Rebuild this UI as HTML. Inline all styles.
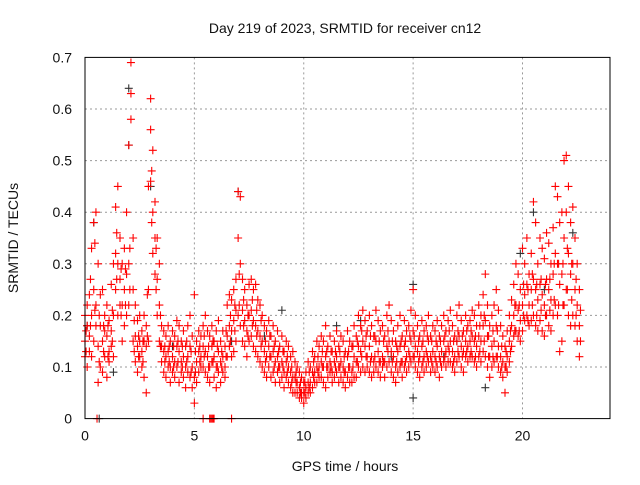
<!DOCTYPE html>
<html><head><meta charset="utf-8"><style>
body{margin:0;background:#fff;}
svg text{font-family:"Liberation Sans",sans-serif;fill:#111;}
</style></head><body>
<svg id="chart" width="640" height="480" xmlns="http://www.w3.org/2000/svg">
<rect width="640" height="480" fill="#fff"/>
<text x="345" y="33" font-size="14" text-anchor="middle">Day 219 of 2023, SRMTID for receiver cn12</text>
<text x="345" y="471" font-size="14" text-anchor="middle">GPS time / hours</text>
<text x="0" y="0" font-size="14" text-anchor="middle" transform="translate(18,238) rotate(-90)">SRMTID / TECUs</text>
<g id="grid"></g>
<g id="black"></g>
<g id="red"></g>
<rect x="85" y="57.4" width="525" height="361.2" fill="none" stroke="#000" stroke-width="1"/>
<g id="ticks"></g>
</svg>
<script>
const xTicks=[0,5,10,15,20];
const yTicks=[0,0.1,0.2,0.3,0.4,0.5,0.6,0.7];
const yTickLabels=["0","0.1","0.2","0.3","0.4","0.5","0.6","0.7"];
const redRows=[
[0.0,.15,.20,.12],[0.1,.18,.22,.10],[0.2,.24,.16,.13],[0.3,.33,.20,.12],[0.4,.38,.25,.15],[0.5,.40,.22,.18],[0.6,.30,.14,.07],[0.7,.24,.18,.10],[0.8,.25,.15,.09],[0.9,.20,.12,.17],
[1.0,.22,.16,.08],[1.1,.19,.13,.11],[1.2,.26,.17,.14],[1.3,.30,.20,.12],[1.4,.41,.32,.25],[1.5,.45,.30,.20],[1.6,.35,.27,.22],[1.7,.30,.22,.15],[1.8,.33,.25,.18],[1.9,.40,.28,.20],
[2.0,.53,.30,.22],[2.1,.69,.63,.58],[2.2,.35,.25,.15],[2.3,.22,.16,.11],[2.4,.19,.14,.09],[2.5,.20,.15,.12],[2.6,.17,.13,.10],[2.7,.20,.15,.08],[2.8,.18,.14,.05],[2.9,.45,.25,.15],
[3.0,.62,.56,.46],[3.1,.52,.40,.32],[3.2,.42,.35,.28],[3.3,.35,.27,.20],[3.4,.30,.22,.15],[3.5,.18,.14,.11],[3.6,.17,.13,.09],[3.7,.16,.12,.08],[3.8,.18,.13,.10],[3.9,.15,.10,.07],
[4.0,.17,.12,.09],[4.1,.16,.11,.08],[4.2,.19,.14,.10],[4.3,.18,.13,.07],[4.4,.15,.11,.09],[4.5,.17,.12,.08],[4.6,.14,.10,.06],[4.7,.18,.12,.09],[4.8,.20,.14,.08],[4.9,.16,.10,.06],
[5.0,.24,.08,.03],[5.1,.15,.11,.07],[5.2,.17,.13,.09],[5.3,.16,.12,.10],[5.4,.18,.14,.10],[5.5,.20,.13,.09],[5.6,.17,.12,.08],[5.7,.16,.10,.07],[5.8,.18,.14,.11],[5.9,.15,.12,.08],
[6.0,.17,.10,.06],[6.1,.19,.13,.09],[6.2,.15,.11,.07],[6.3,.17,.12,.09],[6.4,.14,.10,.08],[6.5,.22,.16,.12],[6.6,.24,.18,.14],[6.7,.23,.17,.12],[6.8,.25,.19,.13],[6.9,.27,.21,.15],
[7.0,.44,.35,.20],[7.1,.43,.30,.18],[7.2,.27,.21,.15],[7.3,.25,.19,.14],[7.4,.22,.17,.12],[7.5,.26,.20,.15],[7.6,.27,.21,.16],[7.7,.25,.19,.14],[7.8,.26,.18,.13],[7.9,.23,.17,.12],
[8.0,.22,.16,.11],[8.1,.20,.15,.10],[8.2,.18,.13,.09],[8.3,.17,.12,.08],[8.4,.19,.14,.10],[8.5,.16,.12,.08],[8.6,.18,.13,.09],[8.7,.15,.11,.07],[8.8,.17,.12,.09],[8.9,.14,.10,.07],
[9.0,.16,.11,.08],[9.1,.13,.09,.06],[9.2,.15,.11,.08],[9.3,.14,.10,.07],[9.4,.12,.09,.06],[9.5,.13,.08,.05],[9.6,.11,.08,.05],[9.7,.10,.07,.05],[9.8,.09,.06,.04],[9.9,.08,.05,.04],
[10.0,.07,.05,.03],[10.1,.09,.06,.04],[10.2,.11,.07,.05],[10.3,.10,.07,.05],[10.4,.13,.09,.06],[10.5,.12,.09,.07],[10.6,.15,.10,.07],[10.7,.14,.10,.08],[10.8,.16,.11,.08],[10.9,.15,.10,.07],
[11.0,.18,.12,.06],[11.1,.14,.10,.08],[11.2,.16,.11,.09],[11.3,.13,.09,.07],[11.4,.15,.11,.08],[11.5,.17,.12,.09],[11.6,.14,.10,.07],[11.7,.16,.11,.08],[11.8,.15,.10,.07],[11.9,.13,.09,.06],
[12.0,.17,.12,.08],[12.1,.15,.10,.07],[12.2,.14,.09,.07],[12.3,.18,.12,.08],[12.4,.16,.11,.08],[12.5,.20,.14,.10],[12.6,.18,.13,.09],[12.7,.21,.15,.10],[12.8,.19,.14,.09],[12.9,.17,.12,.10],
[13.0,.20,.14,.09],[13.1,.18,.12,.08],[13.2,.16,.11,.09],[13.3,.21,.15,.10],[13.4,.19,.13,.09],[13.5,.17,.11,.08],[13.6,.18,.12,.10],[13.7,.16,.11,.08],[13.8,.20,.14,.10],[13.9,.22,.15,.11],
[14.0,.19,.13,.09],[14.1,.17,.12,.08],[14.2,.15,.10,.07],[14.3,.18,.13,.09],[14.4,.20,.14,.10],[14.5,.16,.11,.08],[14.6,.19,.14,.10],[14.7,.17,.12,.09],[14.8,.18,.13,.10],[14.9,.21,.15,.11],
[15.0,.25,.17,.12],[15.1,.20,.14,.10],[15.2,.18,.13,.09],[15.3,.16,.12,.08],[15.4,.19,.14,.10],[15.5,.17,.12,.09],[15.6,.18,.13,.10],[15.7,.20,.15,.11],[15.8,.16,.12,.09],[15.9,.18,.13,.10],
[16.0,.17,.12,.09],[16.1,.19,.14,.10],[16.2,.16,.12,.08],[16.3,.18,.13,.10],[16.4,.20,.15,.11],[16.5,.17,.13,.10],[16.6,.19,.14,.11],[16.7,.21,.15,.11],[16.8,.18,.13,.10],[16.9,.16,.12,.09],
[17.0,.20,.15,.11],[17.1,.22,.16,.12],[17.2,.19,.14,.10],[17.3,.17,.13,.09],[17.4,.20,.15,.12],[17.5,.18,.14,.11],[17.6,.19,.15,.12],[17.7,.21,.16,.12],[17.8,.20,.15,.11],[17.9,.18,.14,.10],
[18.0,.22,.16,.12],[18.1,.20,.15,.11],[18.2,.24,.18,.13],[18.3,.28,.19,.12],[18.4,.22,.16,.10],[18.5,.18,.12,.08],[18.6,.20,.14,.10],[18.7,.22,.15,.11],[18.8,.25,.18,.12],[18.9,.21,.14,.10],
[19.0,.18,.12,.09],[19.1,.16,.11,.08],[19.2,.14,.10,.05],[19.3,.17,.12,.09],[19.4,.20,.15,.11],[19.5,.23,.18,.14],[19.6,.26,.20,.16],[19.7,.30,.22,.17],[19.8,.28,.21,.16],[19.9,.25,.19,.15],
[20.0,.33,.22,.17],[20.1,.30,.24,.19],[20.2,.35,.26,.20],[20.3,.28,.22,.18],[20.4,.32,.25,.19],[20.5,.42,.27,.20],[20.6,.38,.25,.18],[20.7,.30,.23,.17],[20.8,.35,.26,.19],[20.9,.33,.24,.17],
[21.0,.31,.22,.16],[21.1,.36,.27,.20],[21.2,.34,.25,.18],[21.3,.30,.23,.17],[21.4,.37,.28,.20],[21.5,.45,.32,.22],[21.6,.43,.30,.20],[21.7,.38,.26,.13],[21.8,.40,.28,.15],[21.9,.50,.35,.22],
[22.0,.51,.40,.25],[22.1,.45,.32,.20],[22.2,.38,.28,.18],[22.3,.41,.30,.20],[22.4,.35,.25,.18],[22.5,.30,.22,.15],[22.6,.25,.18,.12]];
const redMidRows=[
[0.05,.17,.13],[0.25,.27,.18],[0.45,.34,.21],[0.65,.20,.11],[0.85,.18,.13],[1.05,.18,.12],[1.25,.21,.15],[1.45,.36,.27],[1.65,.29,.20],[1.85,.29,.22],
[2.05,.33,.25],[2.25,.19,.13],[2.45,.16,.12],[2.65,.15,.11],[2.85,.24,.16],[3.05,.48,.38],[3.25,.33,.25],[3.45,.20,.14],[3.65,.14,.11],[3.85,.14,.11],
[4.05,.14,.10],[4.25,.15,.11],[4.45,.14,.10],[4.65,.15,.11],[4.85,.13,.09],[5.05,.13,.09],[5.25,.14,.11],[5.45,.16,.12],[5.65,.14,.10],[5.85,.15,.11],
[6.05,.14,.10],[6.25,.13,.10],[6.45,.17,.12],[6.65,.20,.15],[6.85,.22,.17],[7.05,.28,.22],[7.25,.23,.18],[7.45,.20,.16],[7.65,.23,.18],[7.85,.21,.16],
[8.05,.19,.14],[8.25,.15,.11],[8.45,.16,.12],[8.65,.14,.10],[8.85,.13,.10],[9.05,.13,.10],[9.25,.12,.09],[9.45,.10,.07],[9.65,.09,.07],[9.85,.07,.05],
[10.05,.07,.05],[10.25,.09,.06],[10.45,.11,.08],[10.65,.12,.09],[10.85,.13,.10],[11.05,.13,.10],[11.25,.13,.10],[11.45,.13,.10],[11.65,.13,.10],[11.85,.12,.09],
[12.05,.13,.10],[12.25,.14,.10],[12.45,.15,.11],[12.65,.17,.12],[12.85,.16,.12],[13.05,.16,.11],[13.25,.16,.12],[13.45,.15,.11],[13.65,.15,.11],[13.85,.17,.13],
[14.05,.15,.11],[14.25,.14,.11],[14.45,.15,.11],[14.65,.15,.11],[14.85,.16,.12],[15.05,.16,.12],[15.25,.15,.11],[15.45,.15,.11],[15.65,.16,.12],[15.85,.15,.11],
[16.05,.15,.11],[16.25,.15,.11],[16.45,.16,.12],[16.65,.17,.13],[16.85,.15,.11],[17.05,.17,.13],[17.25,.16,.12],[17.45,.17,.13],[17.65,.17,.13],[17.85,.16,.12],
[18.05,.18,.13],[18.25,.20,.15],[18.45,.16,.12],[18.65,.17,.12],[18.85,.17,.12],[19.05,.14,.10],[19.25,.13,.10],[19.45,.17,.13],[19.65,.22,.17],[19.85,.22,.17],
[20.05,.26,.20],[20.25,.25,.19],[20.45,.28,.22],[20.65,.26,.20],[20.85,.27,.21],[21.05,.26,.20],[21.25,.27,.21],[21.45,.30,.23],[21.65,.30,.22],[21.85,.30,.22],
[22.05,.33,.25],[22.25,.30,.23],[22.45,.27,.20],[22.65,.21,.15]];
const redZeroTimes=[5.4,5.7,5.75,5.8,5.85,5.9,6.7,0.55];
const blackTimes=[0.1,0.4,2.0,2.0,3.0,7.0,15.0,15.0,20.5,18.3,6.7,9.0,11.5,14.0,17.0,21.0,0.65,1.3,4.0,8.2,12.6,16.4,19.9,22.3];
const blackValues=[0.18,0.38,0.64,0.53,0.45,0.44,0.04,0.26,0.40,0.06,0.15,0.21,0.18,0.12,0.15,0.25,0.0,0.09,0.14,0.16,0.19,0.12,0.32,0.36];

const X0=85,X1=610,Y0=418.6,Y1=57.4;
const xs=t=>X0+t/24*(X1-X0);
const ys=v=>Y0-v/0.7*(Y0-Y1);
const NS="http://www.w3.org/2000/svg";
function mk(tag,attrs,parent){const e=document.createElementNS(NS,tag);for(const k in attrs)e.setAttribute(k,attrs[k]);parent.appendChild(e);return e;}
const grid=document.getElementById('grid'),ticks=document.getElementById('ticks');
xTicks.forEach(t=>{
  const x=xs(t);
  if(t>0){const g=mk('line',{x1:x,x2:x,y1:Y1,y2:Y0,stroke:'#999','stroke-dasharray':'2,3'},grid);
  
  }
  const l=mk('text',{x:x,y:Y0+22,'font-size':14,'text-anchor':'middle'},ticks);
  l.textContent=String(t);
  
  
});
yTicks.forEach((v,i)=>{
  const y=ys(v);
  if(v>0&&v<0.7){const g=mk('line',{x1:X0,x2:X1,y1:y,y2:y,stroke:'#999','stroke-dasharray':'2,3'},grid);
  
  }
  const l=mk('text',{x:72,y:y+5,'font-size':14,'text-anchor':'end'},ticks);
  l.textContent=yTickLabels[i];
  
  
});
function plus(g,t,v,col){
  const x=xs(t),y=ys(v);
  const p=mk('path',{d:`M${x-4},${y}H${x+4}M${x},${y-4}V${y+4}`,stroke:col,'stroke-width':1.1,fill:'none'},g);
  
  
}
const bg=document.getElementById('black'),rg=document.getElementById('red');
blackTimes.forEach((t,i)=>plus(bg,t,blackValues[i],'#333'));
redRows.forEach(r=>{for(let k=1;k<r.length;k++)plus(rg,r[0],r[k],'#f00');});
redMidRows.forEach(r=>{for(let k=1;k<r.length;k++)plus(rg,r[0],r[k],'#f00');});
redZeroTimes.forEach(t=>plus(rg,t,0,'#f00'));
</script>
</body></html>
